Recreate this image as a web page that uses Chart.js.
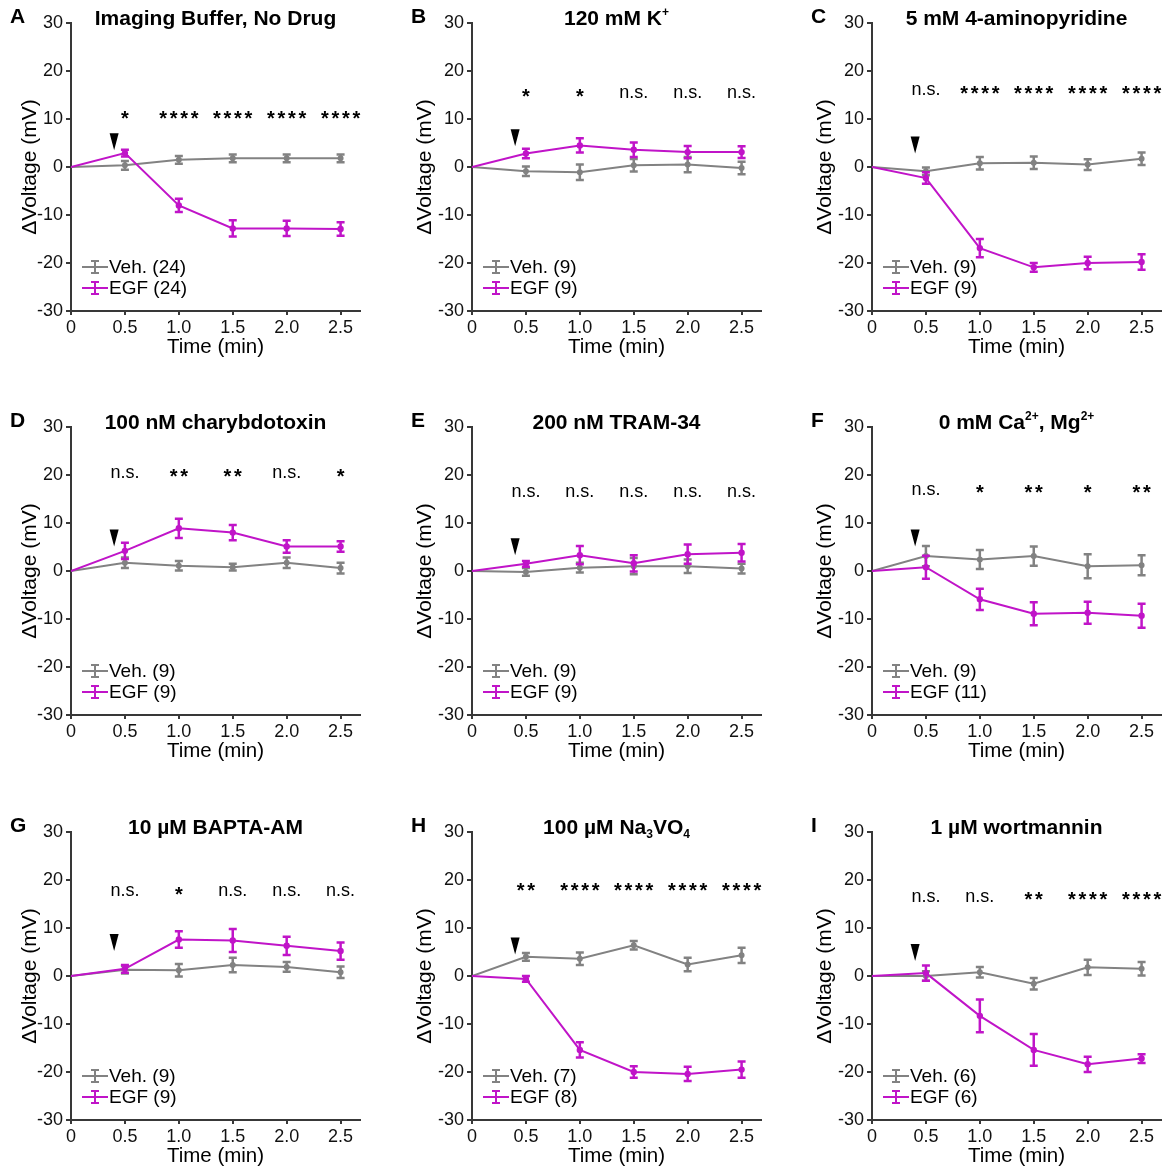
<!DOCTYPE html>
<html>
<head>
<meta charset="utf-8">
<script src="https://cdn.jsdelivr.net/npm/chart.js@4.4.0/dist/chart.umd.min.js"></script>
<style>
  body { margin: 0; background: #fff; width: 1167px; height: 1168px; overflow: hidden; position: relative; }
  canvas { position: absolute; }
</style>
</head>
<body>
<script>
// ---- data ----
const times = [0, 0.5, 1.0, 1.5, 2.0, 2.5];
const xTickLabels = ["0", "0.5", "1.0", "1.5", "2.0", "2.5"];
const yTickValues = [-30, -20, -10, 0, 10, 20, 30];
const panelLetters = ["A", "B", "C", "D", "E", "F", "G", "H", "I"];
const vehN = [24, 9, 9, 9, 9, 9, 9, 7, 6];
const egfN = [24, 9, 9, 9, 9, 11, 9, 8, 6];

// titles as text pieces (sup / sub for small raised or lowered text)
const titleA = [["Imaging Buffer, No Drug"]];
const titleB = [["120 mM K"], ["+", "sup"]];
const titleC = [["5 mM 4-aminopyridine"]];
const titleD = [["100 nM charybdotoxin"]];
const titleE = [["200 nM TRAM-34"]];
const titleF = [["0 mM Ca"], ["2+", "sup"], [", Mg"], ["2+", "sup"]];
const titleG = [["10 µM BAPTA-AM"]];
const titleH = [["100 µM Na"], ["3", "sub"], ["VO"], ["4", "sub"]];
const titleI = [["1 µM wortmannin"]];

// A - imaging buffer
const vehA = [0, 0.35, 1.5, 1.8, 1.8, 1.8];
const vehErrA = [0, 0.9, 0.8, 0.8, 0.8, 0.8];
const egfA = [0, 2.9, -8.0, -12.8, -12.8, -12.9];
const egfErrA = [0, 0.7, 1.4, 1.7, 1.6, 1.4];
const sigA = ["*", "****", "****", "****", "****"];
// B - 120 mM K+
const vehB = [0, -0.9, -1.1, 0.35, 0.5, -0.2];
const vehErrB = [0, 1.0, 1.6, 1.3, 1.6, 1.3];
const egfB = [0, 2.8, 4.5, 3.6, 3.1, 3.1];
const egfErrB = [0, 1.0, 1.5, 1.5, 1.3, 1.2];
const sigB = ["*", "*", "n.s.", "n.s.", "n.s."];
// C - 4-aminopyridine
const vehC = [0, -0.9, 0.8, 0.9, 0.5, 1.7];
const vehErrC = [0, 0.8, 1.3, 1.3, 1.1, 1.3];
const egfC = [0, -2.3, -16.9, -20.9, -20.0, -19.8];
const egfErrC = [0, 1.2, 1.9, 0.9, 1.3, 1.6];
const sigC = ["n.s.", "****", "****", "****", "****"];
// D - charybdotoxin
const vehD = [0, 1.7, 1.1, 0.8, 1.7, 0.6];
const vehErrD = [0, 1.1, 1.0, 0.7, 1.1, 1.1];
const egfD = [0, 4.2, 8.9, 8.0, 5.1, 5.1];
const egfErrD = [0, 1.7, 2.0, 1.6, 1.3, 1.1];
const sigD = ["n.s.", "**", "**", "n.s.", "*"];
// E - TRAM-34
const vehE = [0, -0.2, 0.7, 1.0, 1.0, 0.5];
const vehErrE = [0, 0.8, 1.0, 1.7, 1.4, 1.0];
const egfE = [0, 1.5, 3.3, 1.6, 3.5, 3.8];
const egfErrE = [0, 0.6, 1.9, 1.7, 2.0, 1.8];
const sigE = ["n.s.", "n.s.", "n.s.", "n.s.", "n.s."];
// F - 0 mM Ca2+, Mg2+
const vehF = [0, 3.1, 2.4, 3.1, 1.0, 1.2];
const vehErrF = [0, 2.1, 2.0, 2.0, 2.5, 2.1];
const egfF = [0, 0.8, -5.9, -8.9, -8.7, -9.3];
const egfErrF = [0, 2.4, 2.2, 2.4, 2.3, 2.5];
const sigF = ["n.s.", "*", "**", "*", "**"];
// G - BAPTA-AM
const vehG = [0, 1.3, 1.2, 2.3, 1.9, 0.8];
const vehErrG = [0, 0.8, 1.3, 1.5, 1.0, 1.2];
const egfG = [0, 1.5, 7.6, 7.4, 6.3, 5.2];
const egfErrG = [0, 0.8, 1.7, 2.4, 1.9, 1.8];
const sigG = ["n.s.", "*", "n.s.", "n.s.", "n.s."];
// H - Na3VO4
const vehH = [0, 4.0, 3.6, 6.4, 2.4, 4.3];
const vehErrH = [0, 0.8, 1.3, 0.9, 1.4, 1.6];
const egfH = [0, -0.6, -15.4, -20.0, -20.4, -19.5];
const egfErrH = [0, 0.6, 1.6, 1.2, 1.5, 1.7];
const sigH = ["**", "****", "****", "****", "****"];
// I - wortmannin
const vehI = [0, 0.0, 0.8, -1.6, 1.8, 1.5];
const vehErrI = [0, 1.0, 1.1, 1.2, 1.6, 1.4];
const egfI = [0, 0.6, -8.3, -15.4, -18.4, -17.2];
const egfErrI = [0, 1.6, 3.4, 3.3, 1.6, 0.9];
const sigI = ["n.s.", "n.s.", "**", "****", "****"];

// ---- layout ----
const FONT = "'Liberation Sans', Arial, sans-serif";
const GRAY = "#828282";
const MAG = "#c014c8";
const AXIS = "#383838";
const colLeft = [0, 401, 801];
const rowTop = [0, 404, 809];
const sigLevel = [10.8, 15.4, 16, 20.4, 16.5, 16.9, 17.7, 18.5, 16.5]; // mV height of star labels
const arrowTip = [3.5, 4.3, 2.8, 5.1, 3.3, 5.1, 5.2, 4.5, 3.1];

const panels = [
  { title: titleA, veh: vehA, vehErr: vehErrA, egf: egfA, egfErr: egfErrA, sig: sigA },
  { title: titleB, veh: vehB, vehErr: vehErrB, egf: egfB, egfErr: egfErrB, sig: sigB },
  { title: titleC, veh: vehC, vehErr: vehErrC, egf: egfC, egfErr: egfErrC, sig: sigC },
  { title: titleD, veh: vehD, vehErr: vehErrD, egf: egfD, egfErr: egfErrD, sig: sigD },
  { title: titleE, veh: vehE, vehErr: vehErrE, egf: egfE, egfErr: egfErrE, sig: sigE },
  { title: titleF, veh: vehF, vehErr: vehErrF, egf: egfF, egfErr: egfErrF, sig: sigF },
  { title: titleG, veh: vehG, vehErr: vehErrG, egf: egfG, egfErr: egfErrG, sig: sigG },
  { title: titleH, veh: vehH, vehErr: vehErrH, egf: egfH, egfErr: egfErrH, sig: sigH },
  { title: titleI, veh: vehI, vehErr: vehErrI, egf: egfI, egfErr: egfErrI, sig: sigI }
];

// draws a title made of normal / sup / sub pieces, centred on cx
function drawRichTitle(ctx, pieces, cx, cy) {
  const big = "bold 21px " + FONT, small = "bold 12px " + FONT;
  let w = 0;
  for (const p of pieces) {
    ctx.font = p[1] ? small : big;
    w += ctx.measureText(p[0]).width;
  }
  let x = cx - w / 2;
  ctx.textAlign = "left";
  ctx.textBaseline = "alphabetic";
  for (const p of pieces) {
    ctx.font = p[1] ? small : big;
    let y = cy + 8;
    if (p[1] === "sup") y = cy - 1;
    if (p[1] === "sub") y = cy + 12;
    ctx.fillText(p[0], x, y);
    x += ctx.measureText(p[0]).width;
  }
}

function errBar(ctx, x, yTop, yBot, cap) {
  ctx.beginPath();
  ctx.moveTo(x, yTop); ctx.lineTo(x, yBot);
  ctx.moveTo(x - cap, yTop); ctx.lineTo(x + cap, yTop);
  ctx.moveTo(x - cap, yBot); ctx.lineTo(x + cap, yBot);
  ctx.stroke();
}

const extras = {
  id: "extras",
  afterDatasetDraw(chart, args) {
    const ds = chart.data.datasets[args.index];
    const xs = chart.scales.x, ys = chart.scales.y;
    const ctx = chart.ctx;
    ctx.save();
    ctx.strokeStyle = ds.borderColor;
    ctx.lineWidth = 2.5;
    ds.data.forEach((pt, i) => {
      const e = ds.err[i];
      if (!e) return;
      errBar(ctx, xs.getPixelForValue(pt.x), ys.getPixelForValue(pt.y + e), ys.getPixelForValue(pt.y - e), 4);
    });
    ctx.restore();
  },
  afterDraw(chart, args, opts) {
    const i = opts.idx, p = panels[i];
    const ctx = chart.ctx, area = chart.chartArea;
    const xs = chart.scales.x, ys = chart.scales.y;
    ctx.save();
    ctx.fillStyle = "#000";

    // panel letter + title
    ctx.font = "bold 21px " + FONT;
    ctx.textAlign = "left";
    ctx.textBaseline = "middle";
    ctx.fillText(panelLetters[i], 10, 17);
    drawRichTitle(ctx, p.title, (area.left + area.right) / 2, 17);

    // axis titles
    ctx.font = "20.5px " + FONT;
    ctx.textAlign = "center";
    ctx.textBaseline = "middle";
    ctx.fillText("Time (min)", (area.left + area.right) / 2, area.bottom + 36);
    ctx.save();
    ctx.font = "21px " + FONT;
    ctx.translate(area.left - (i % 3 === 0 ? 41 : 47), (area.top + area.bottom) / 2);
    ctx.rotate(-Math.PI / 2);
    ctx.fillText("\u0394Voltage (mV)", 0, 0);
    ctx.restore();

    // significance labels
    const sy = ys.getPixelForValue(sigLevel[i]);
    p.sig.forEach((s, k) => {
      const x = xs.getPixelForValue(times[k + 1]);
      if (s === "n.s.") {
        ctx.font = "18px " + FONT;
        ctx.textAlign = "center";
        ctx.fillText(s, x, sy);
      } else {
        // stars spaced out like the original
        ctx.font = "bold 20px " + FONT;
        ctx.textAlign = "center";
        const pitch = 10.5;
        const x0 = x - (s.length - 1) * pitch / 2;
        for (let c = 0; c < s.length; c++) ctx.fillText("*", x0 + c * pitch, sy + 4);
      }
    });

    // EGF arrowhead
    const ax = xs.getPixelForValue(0.4), ay = ys.getPixelForValue(arrowTip[i]);
    ctx.beginPath();
    ctx.moveTo(ax, ay);
    ctx.lineTo(ax - 4.5, ay - 17);
    ctx.lineTo(ax + 4.5, ay - 17);
    ctx.closePath();
    ctx.fill();

    // legend
    const lx = area.left + 11;
    const rows = [[GRAY, "Veh. (" + vehN[i] + ")"], [MAG, "EGF (" + egfN[i] + ")"]];
    rows.forEach((r, k) => {
      const ly = area.top + 244 + k * 21;
      ctx.strokeStyle = r[0];
      ctx.lineWidth = 2;
      ctx.beginPath();
      ctx.moveTo(lx, ly); ctx.lineTo(lx + 26, ly);
      ctx.stroke();
      errBar(ctx, lx + 13, ly - 6, ly + 6, 4);
      ctx.fillStyle = "#000";
      ctx.font = "19px " + FONT;
      ctx.textAlign = "left";
      ctx.textBaseline = "middle";
      ctx.fillText(r[1], lx + 27, ly + 1);
    });
    ctx.restore();
  }
};

panels.forEach((p, i) => {
  const cv = document.createElement("canvas");
  cv.width = 400;
  cv.height = 400;
  cv.style.left = colLeft[i % 3] + "px";
  cv.style.top = rowTop[Math.floor(i / 3)] + "px";
  document.body.appendChild(cv);

  const pts = arr => times.map((t, k) => ({ x: t, y: arr[k] }));

  new Chart(cv, {
    type: "line",
    data: {
      datasets: [
        {
          label: "EGF", data: pts(p.egf), err: p.egfErr,
          borderColor: MAG, backgroundColor: MAG, borderWidth: 2,
          pointRadius: [0, 2.2, 2.2, 2.2, 2.2, 2.2], tension: 0
        },
        {
          label: "Veh.", data: pts(p.veh), err: p.vehErr,
          borderColor: GRAY, backgroundColor: GRAY, borderWidth: 2,
          pointRadius: [0, 2, 2, 2, 2, 2], tension: 0
        }
      ]
    },
    options: {
      responsive: false,
      animation: false,
      layout: { padding: { top: 23, right: 40, left: 0, bottom: 0 } },
      plugins: {
        legend: { display: false },
        tooltip: { enabled: false },
        extras: { idx: i }
      },
      scales: {
        x: {
          type: "linear", min: 0, max: 2.68,
          afterBuildTicks: s => { s.ticks = times.map(v => ({ value: v })); },
          afterFit: s => { s.height = 89; },
          ticks: {
            callback: (v, k) => xTickLabels[k],
            font: { size: 18, family: FONT }, color: "#111", padding: 2, maxRotation: 0
          },
          grid: { display: true, drawOnChartArea: false, drawTicks: true, tickLength: 4, color: AXIS, lineWidth: 2 },
          border: { display: true, color: AXIS, width: 2 }
        },
        y: {
          min: -30, max: 30,
          afterBuildTicks: s => { s.ticks = yTickValues.map(v => ({ value: v })); },
          afterFit: s => { s.width = 71; },
          ticks: { font: { size: 18, family: FONT }, color: "#111", padding: 3 },
          grid: { display: true, drawOnChartArea: false, drawTicks: true, tickLength: 5, color: AXIS, lineWidth: 2 },
          border: { display: true, color: AXIS, width: 2 }
        }
      }
    },
    plugins: [extras]
  });
});
</script>
</body>
</html>
